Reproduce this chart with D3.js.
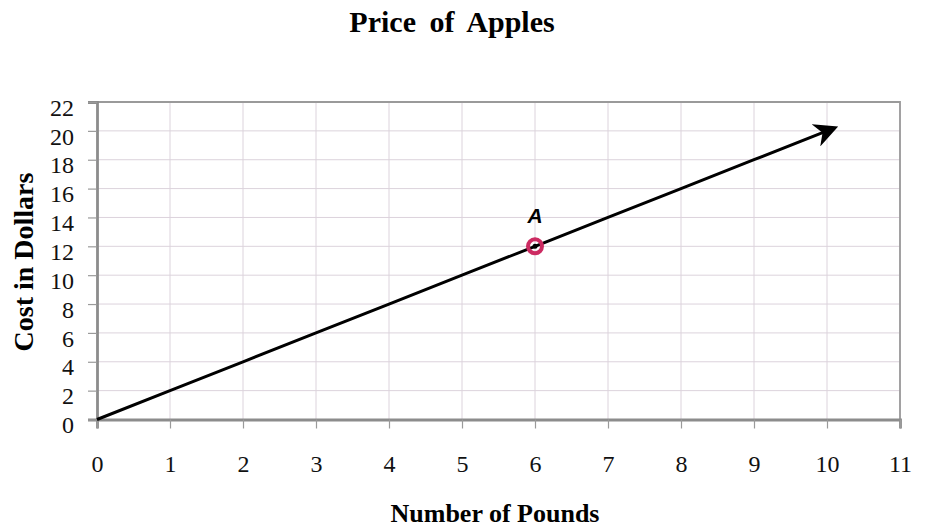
<!DOCTYPE html>
<html><head><meta charset="utf-8">
<script src="https://cdn.jsdelivr.net/npm/d3@7"></script>
<style>body{margin:0;background:#fff}</style>
</head><body>
<svg id="c" width="925" height="527"></svg>
<script>
const xValues = [0,1,2,3,4,5,6,7,8,9,10];
const yValues = [0,2,4,6,8,10,12,14,16,18,20];
const xTicks = [0,1,2,3,4,5,6,7,8,9,10,11];
const yTicks = [0,2,4,6,8,10,12,14,16,18,20,22];
const pointA = {x:6, y:12, label:"A"};

const svg = d3.select("#c");
const m = {l:97, r:900, t:102, b:419.5};
const x = d3.scaleLinear().domain([0,11]).range([m.l,m.r]);
const y = d3.scaleLinear().domain([0,22]).range([m.b,m.t]);
const serif = "'Liberation Serif','Times New Roman',serif";

// grid
svg.append("g").selectAll("line").data(xTicks.slice(1)).join("line")
  .attr("x1",d=>x(d)).attr("x2",d=>x(d)).attr("y1",m.t).attr("y2",m.b)
  .attr("stroke","#dcd3dc").attr("stroke-width",1);
svg.append("g").selectAll("line").data(yTicks.slice(1)).join("line")
  .attr("x1",m.l).attr("x2",m.r).attr("y1",d=>y(d)).attr("y2",d=>y(d))
  .attr("stroke","#dcd3dc").attr("stroke-width",1);

// border top/right
svg.append("path").attr("d",`M${m.l},${m.t}H${m.r}V${m.b}`)
  .attr("fill","none").attr("stroke","#9a9a9a").attr("stroke-width",1.8);

// axes
const xa = svg.append("g").attr("transform",`translate(0,${m.b})`)
  .call(d3.axisBottom(x).tickValues(xTicks).tickFormat(d3.format("d")).tickSize(9).tickPadding(26));
const ya = svg.append("g").attr("transform",`translate(${m.l},0)`)
  .call(d3.axisLeft(y).tickValues(yTicks).tickFormat(d3.format("d")).tickSize(9).tickPadding(14));
[xa,ya].forEach(a=>{
  a.select(".domain").attr("stroke","#8c8c8c").attr("stroke-width",2.8);
  a.selectAll(".tick line").attr("stroke","#9a9a9a").attr("stroke-width",1.2);
  a.selectAll("text").attr("font-family",serif).attr("font-size",24).attr("fill","#111");
});
ya.selectAll("text").attr("dy","0.55em");

// arrow marker
svg.append("defs").append("marker").attr("id","arr")
  .attr("viewBox","0 0 10 10").attr("refX",5).attr("refY",5)
  .attr("markerWidth",8).attr("markerHeight",8).attr("markerUnits","strokeWidth")
  .attr("orient","auto")
  .append("path").attr("d","M0,0 L10,5 L0,10 L3,5 Z").attr("fill","#000");

const pts = xValues.map((d,i)=>[x(d),y(yValues[i])]);
svg.append("path").attr("d",d3.line()(pts))
  .attr("fill","none").attr("stroke","#000").attr("stroke-width",3)
  .attr("marker-end","url(#arr)");

// point A
svg.append("circle").attr("cx",x(pointA.x)).attr("cy",y(pointA.y)).attr("r",7)
  .attr("fill","none").attr("stroke","#cc2b62").attr("stroke-width",4);
svg.append("circle").attr("cx",x(pointA.x)).attr("cy",y(pointA.y)).attr("r",2.5).attr("fill","#000");
svg.append("text").attr("x",x(pointA.x)).attr("y",y(pointA.y)-23)
  .attr("text-anchor","middle").attr("font-family","'Liberation Sans',Arial,sans-serif")
  .attr("font-weight","bold").attr("font-style","italic").attr("font-size",21).text(pointA.label);

// titles
svg.append("text").attr("x",452).attr("y",32).attr("text-anchor","middle")
  .attr("font-family",serif).attr("font-weight","bold").attr("font-size",30)
  .attr("word-spacing",6).text("Price of Apples");
svg.append("text").attr("x",495).attr("y",522).attr("text-anchor","middle")
  .attr("font-family",serif).attr("font-weight","bold").attr("font-size",26).text("Number of Pounds");
svg.append("text").attr("transform","translate(33,262) rotate(-90)").attr("text-anchor","middle")
  .attr("font-family",serif).attr("font-weight","bold").attr("font-size",28).text("Cost in Dollars");
</script>
</body></html>
